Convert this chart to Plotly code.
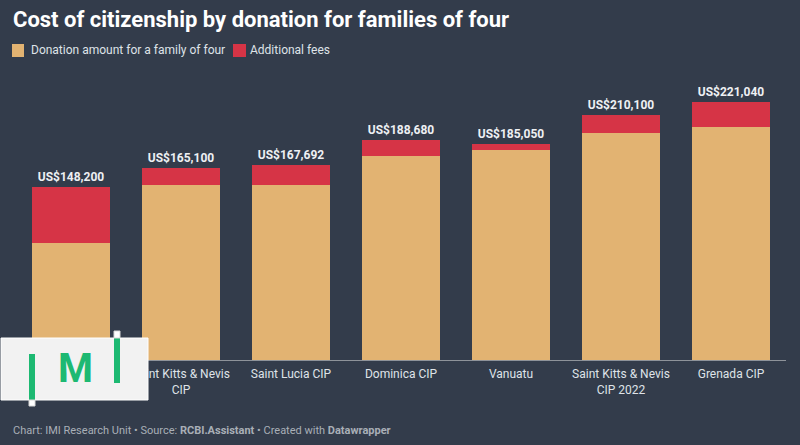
import plotly.graph_objects as go

categories = ["Antigua & Barbuda<br>CIP", "Saint Kitts & Nevis<br>CIP", "Saint Lucia CIP",
              "Dominica CIP", "Vanuatu", "Saint Kitts & Nevis<br>CIP 2022", "Grenada CIP"]
donation = [100000, 150000, 150000, 175000, 180000, 195000, 200000]
fees = [48200, 15100, 17692, 13680, 5050, 15100, 21040]
series_names = ["Donation amount for a family of four", "Additional fees"]
totals = [d + f for d, f in zip(donation, fees)]
total_labels = ["<b>US$" + f"{t:,}" + "</b>" for t in totals]

BG = "#333c4b"
TAN = "#e2b372"
RED = "#d63446"
GREEN = "#1db972"
FONT = "Roboto"
TXT = "#dfe3e8"

W, H = 800, 445
L, T, B = 16, 80, 85
PW = 770
R = W - L - PW
PH = H - T - B
ymax = PH * 858

def fx(x):
    return (x - L) / PW

def fy(y):
    return ((H - B) - y) / PH

fig = go.Figure()
fig.add_trace(go.Bar(x=categories, y=donation, name=series_names[0],
                     marker=dict(color=TAN, line=dict(width=0)), hoverinfo="skip"))
fig.add_trace(go.Bar(x=categories, y=fees, name=series_names[1],
                     marker=dict(color=RED, line=dict(width=0)),
                     text=total_labels, textposition="outside", cliponaxis=False,
                     textfont=dict(family=FONT, size=12, color="#eef0f3"),
                     hoverinfo="skip"))

def rect(x0, x1, y0, y1, fill, line=None):
    return dict(type="rect", xref="paper", yref="paper", x0=fx(x0), x1=fx(x1), y0=fy(y1), y1=fy(y0),
                fillcolor=fill, line=line or dict(width=0), layer="above")

shapes = [
    # legend swatches
    rect(12, 24, 44, 57, TAN),
    rect(233, 246, 44, 57, RED),
    # IMI logo
    rect(1, 148, 338, 400, "#f2f2f2", dict(color="#ffffff", width=1)),
    rect(29, 35, 354, 400, GREEN),
    rect(29, 35, 400, 406, "#ffffff", dict(color="#d8d8d8", width=1)),
    rect(114, 120, 338, 383, GREEN),
    rect(114, 120, 331, 338, "#ffffff", dict(color="#d8d8d8", width=1)),
]

annotations = [
    dict(text="<b>Cost of citizenship by donation for families of four</b>", xref="paper", yref="paper",
         x=fx(11), y=fy(19.5), xanchor="left", yanchor="middle", showarrow=False,
         font=dict(family=FONT, size=22, color="#ffffff")),
    dict(text=series_names[0], xref="paper", yref="paper", x=fx(29), y=fy(50.5),
         xanchor="left", yanchor="middle", showarrow=False, font=dict(family=FONT, size=12, color=TXT)),
    dict(text=series_names[1], xref="paper", yref="paper", x=fx(248), y=fy(50.5),
         xanchor="left", yanchor="middle", showarrow=False, font=dict(family=FONT, size=12, color=TXT)),
    dict(text="Chart: IMI Research Unit • Source: <b>RCBI.Assistant</b> • Created with <b>Datawrapper</b>",
         xref="paper", yref="paper", x=fx(11), y=fy(430), xanchor="left", yanchor="middle",
         showarrow=False, font=dict(family=FONT, size=11, color="#a9afb7")),
    dict(text="<b>M</b>", xref="paper", yref="paper", x=fx(75), y=fy(368.5), xanchor="center",
         yanchor="middle", showarrow=False, font=dict(family=FONT, size=40, color=GREEN)),
]

fig.update_layout(
    width=W, height=H, barmode="stack", bargap=0.29,
    paper_bgcolor=BG, plot_bgcolor=BG,
    margin=dict(l=L, r=R, t=T, b=B, autoexpand=False),
    font=dict(family=FONT, color=TXT, size=12),
    showlegend=False,
    xaxis=dict(showline=True, linecolor="#8e939a", linewidth=1, showgrid=False, ticks="",
               ticklabelstandoff=3,
               tickfont=dict(family=FONT, size=12, color=TXT), fixedrange=True),
    yaxis=dict(range=[0, ymax], visible=False, showgrid=False, fixedrange=True),
    shapes=shapes, annotations=annotations,
)

fig.write_html(
    "out.html",
    config={"displayModeBar": False, "staticPlot": True},
    post_script="document.body.style.margin='0';document.body.style.background='" + BG + "';",
)
